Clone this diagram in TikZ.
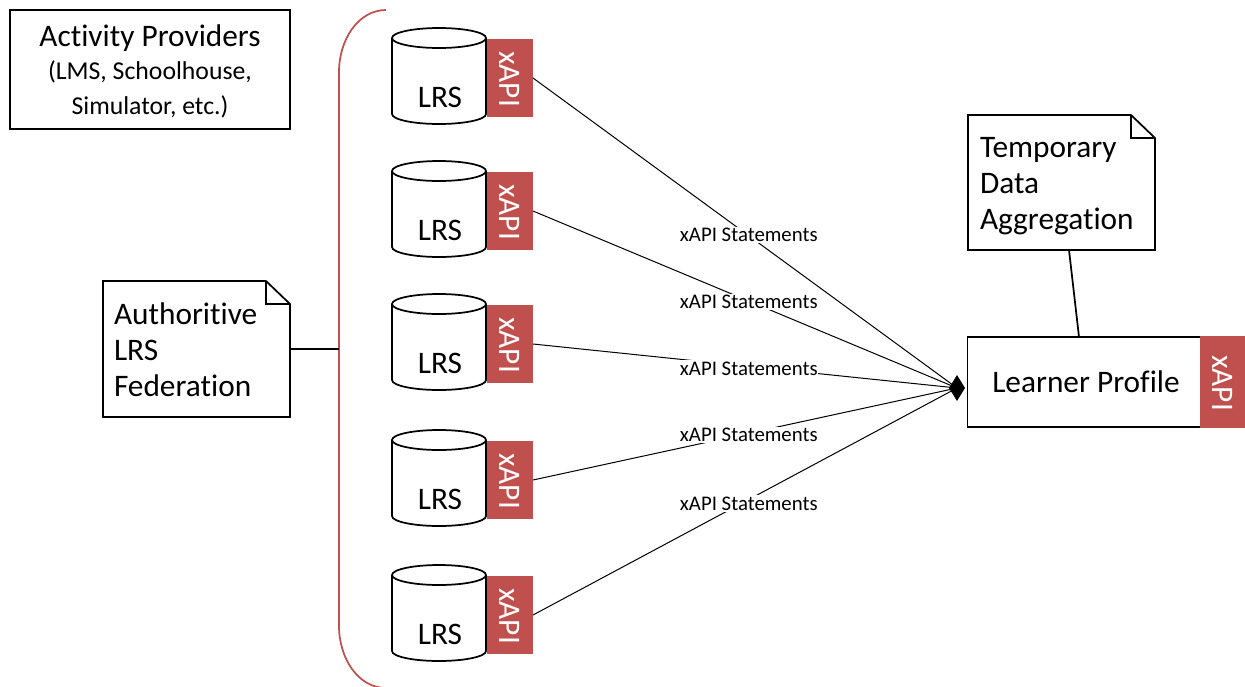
\documentclass[tikz,border=0pt]{standalone}
\usepackage{fontspec}
\setmainfont[Ligatures=NoCommon]{Carlito}
\usetikzlibrary{shapes,arrows.meta}
\definecolor{xapired}{HTML}{C0504D}
\newcommand{\bigtext}{\fontsize{23.5}{27}\selectfont}
\newcommand{\midtext}{\fontsize{19.3}{26}\selectfont}
\newcommand{\smalltext}{\fontsize{15.6}{18}\selectfont}
\newcommand{\xapilabel}{\rotatebox{-90}{\hspace{1.5pt}xAPI}}

\begin{document}
\begin{tikzpicture}[x=.75pt,y=-.75pt,
	lrscan/.pic={
		\draw[line width=1.3pt,fill=white] (-47,-38) -- (-47,38) .. controls (-47,43.5) and (-26,48) .. (0,48) .. controls (26,48) and (47,43.5) .. (47,38) -- (47,-38) .. controls (47,-43.5) and (26,-48) .. (0,-48) .. controls (-26,-48) and (-47,-43.5) .. (-47,-38) -- cycle;
		\draw[line width=1.3pt] (-47,-38) .. controls (-47,-32.5) and (-26,-28) .. (0,-28) .. controls (26,-28) and (47,-32.5) .. (47,-38);
		\node[font=\bigtext,inner sep=0pt] (-text) at (1,21.5) {LRS};
	},
	xapibox/.style={fill=xapired,text=white,font=\bigtext,minimum width=34.5pt,minimum height=58.5pt,inner sep=0pt,outer sep=0pt},
	notebox/.style={font=\bigtext,align=left,anchor=west,inner sep=0pt,outer sep=0pt},
	statement/.style={pos=.509,fill=white,font=\smalltext,inner xsep=0pt,inner ysep=1pt},
	feed/.style={line width=.75pt}]
	\useasboundingbox (0,0) rectangle (1245,686);

	% activity providers
	\node[draw,line width=1.3pt,minimum width=210pt,minimum height=89pt,inner sep=0pt,outer sep=0pt] (providers) at (150,69.5) {};
	\node[align=center,font=\midtext,inner sep=0pt] (providerstext) at (150,71.5) {{\bigtext Activity Providers}\\[-1pt](LMS, Schoolhouse,\\Simulator, etc.)};

	% federation brace
	\draw[xapired,line width=1.3pt] (386,10) .. controls (358,10) and (339,40) .. (339,72) -- (339,349) coordinate (bracemid) -- (339,626) .. controls (339,658) and (358,688) .. (386,688);

	% federation note
	\draw[line width=1.3pt] (103,281) -- (266,281) -- (290,304) -- (290,417) -- (103,417) -- cycle;
	\draw[line width=1.3pt] (266,281) -- (266,304) -- (290,304);
	\node[notebox] (federation) at (114,350) {Authoritive\\LRS\\Federation};
	\coordinate (fedout) at (290,349);
	\draw[line width=1.3pt] (fedout) -- (bracemid);

	% lrs column
	\pic (lrsa) at (439,76) {lrscan};
	\node[xapibox] (xapia) at (510,78) {\xapilabel};
	\pic (lrsb) at (439,209) {lrscan};
	\node[xapibox] (xapib) at (510,211) {\xapilabel};
	\pic (lrsc) at (439,342) {lrscan};
	\node[xapibox] (xapic) at (510,344) {\xapilabel};
	\pic (lrsd) at (439,478) {lrscan};
	\node[xapibox] (xapid) at (510,480) {\xapilabel};
	\pic (lrse) at (439,613) {lrscan};
	\node[xapibox] (xapie) at (510,615) {\xapilabel};

	% learner profile
	\node[draw,line width=1.3pt,font=\bigtext,minimum width=174.75pt,minimum height=67.5pt,inner sep=0pt,outer sep=0pt] (learner) at (1084,382) {\hspace{3pt}Learner Profile};
	\node[xapibox,minimum width=33.75pt,minimum height=69pt] (xapilearner) at (1222.5,382) {\xapilabel};
	\node[diamond,fill=black,aspect=.6,minimum width=12pt,minimum height=19.5pt,inner sep=0pt,outer sep=0pt] (hub) at (957,388) {};

	% statements
	\draw[feed] (xapia.east) -- node[statement,yshift=.75pt] (labela) {xAPI Statements} (hub.center);
	\draw[feed] (xapib.east) -- node[statement,yshift=-.75pt] (labelb) {xAPI Statements} (hub.center);
	\draw[feed] (xapic.east) -- node[statement,yshift=-1.5pt] (labelc) {xAPI Statements} (hub.center);
	\draw[feed] (xapid.east) -- node[statement,yshift=-1.5pt] (labeld) {xAPI Statements} (hub.center);
	\draw[feed] (xapie.east) -- node[statement,yshift=-3pt] (labele) {xAPI Statements} (hub.center);

	% aggregation note
	\draw[line width=1.3pt] (968,115) -- (1131,115) -- (1155,138) -- (1155,250) -- (968,250) -- cycle;
	\draw[line width=1.3pt] (1131,115) -- (1131,138) -- (1155,138);
	\node[notebox] (aggregation) at (980,186) {Temporary\\Data\\Aggregation};
	\coordinate (aggout) at (1069,250);
	\coordinate (learnertop) at (1079,337);
	\draw[line width=1.3pt] (aggout) -- (learnertop);
\end{tikzpicture}
\end{document}
